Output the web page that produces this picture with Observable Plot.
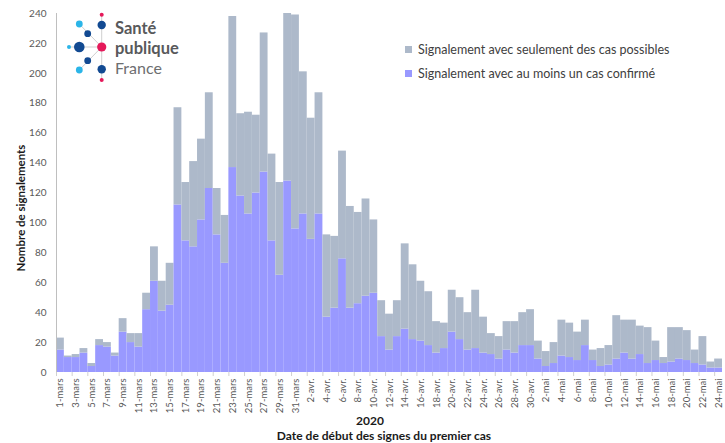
<!DOCTYPE html>
<html><head><meta charset="utf-8">
<script src="https://cdn.jsdelivr.net/npm/d3@7"></script>
<script src="https://cdn.jsdelivr.net/npm/@observablehq/plot@0.6"></script>
<style>
body{margin:0;background:#fff;font-family:Lato,"Open Sans",sans-serif;}
#wrap{position:relative;width:725px;height:443px;overflow:hidden;background:#fff;}
#chart{position:absolute;left:0;top:0;}
.ylab{position:absolute;left:20px;top:208px;transform:translate(-50%,-50%) rotate(-90deg);font-weight:bold;font-size:11.5px;color:#1a1a1a;white-space:nowrap;}
.x2020{position:absolute;left:370px;top:420px;transform:translate(-50%,-50%);font-weight:bold;font-size:12px;color:#1a1a1a;}
.xtitle{position:absolute;left:384px;top:435px;transform:translate(-50%,-50%);font-weight:bold;font-size:12px;color:#1a1a1a;white-space:nowrap;}
.legend{position:absolute;left:405px;top:38px;font-size:12.5px;color:#404040;}
.legend div{display:flex;align-items:center;height:23.5px;white-space:nowrap;}
.legend .sw{display:inline-block;width:7px;height:7px;margin-right:6px;}
#logo{position:absolute;left:0;top:0;}
</style>
</head><body>
<div id="wrap">
  <div id="chart"></div>
  <svg id="logo" width="200" height="90">
    <g stroke="#cfcfcf" stroke-width="1">
      <line x1="101.7" y1="14.7" x2="101.7" y2="80"/>
      <line x1="69" y1="47" x2="101.7" y2="47"/>
      <line x1="79.3" y1="24" x2="101.7" y2="47"/>
      <line x1="79.3" y1="70" x2="101.7" y2="47"/>
    </g>
    <circle cx="101.7" cy="14.7" r="2" fill="#e5195a"/>
    <circle cx="101.7" cy="25" r="4.2" fill="#124a92"/>
    <circle cx="79.3" cy="24" r="3.4" fill="#2bb5e8"/>
    <circle cx="87.7" cy="33.7" r="3.4" fill="#124a92"/>
    <circle cx="69" cy="47" r="2" fill="#2bb5e8"/>
    <circle cx="79.3" cy="47" r="5.3" fill="#124a92"/>
    <circle cx="101.7" cy="47" r="4.6" fill="#e5195a"/>
    <circle cx="87.7" cy="60.7" r="3.4" fill="#124a92"/>
    <circle cx="79.3" cy="70" r="3.4" fill="#2bb5e8"/>
    <circle cx="101.7" cy="69.3" r="4.2" fill="#124a92"/>
    <circle cx="101.7" cy="80" r="2" fill="#e5195a"/>
    <text x="115" y="34" font-family="Lato" font-weight="bold" font-size="16.5" fill="#58595b">Santé</text>
    <text x="115" y="53.5" font-family="Lato" font-weight="bold" font-size="16.5" fill="#58595b">publique</text>
    <text x="115" y="74" font-family="Lato" font-size="16" fill="#6d6e70">France</text>
  </svg>
  <div class="legend">
    <div><span class="sw" style="background:#adb9ca"></span>Signalement avec seulement des cas possibles</div>
    <div><span class="sw" style="background:#9999ff"></span>Signalement avec au moins un cas confirmé</div>
  </div>
  <div class="ylab">Nombre de signalements</div>
  <div class="x2020">2020</div>
  <div class="xtitle">Date de début des signes du premier cas</div>
</div>
<script>
// Categories: days from 1 March to 24 May 2020
const months = [["mars", 31], ["avr.", 30], ["mai", 24]];
const dates = [];
for (const [m, n] of months) for (let d = 1; d <= n; d++) dates.push(`${d}-${m}`);

// Series values
const confirmes = [15,10,10,13,4,18,17,11,27,20,
  17,42,61,41,45,112,88,84,102,123,
  92,73,137,118,106,120,134,88,65,128,
  96,106,89,106,37,43,76,43,46,51,
  53,24,15,24,29,22,21,18,13,16,
  27,22,15,16,13,12,9,15,13,18,
  18,9,4,6,11,10,8,18,8,4,
  5,9,13,9,12,6,8,6,7,9,
  8,6,5,3,3];
const possibles = [8,1,2,3,2,4,3,2,9,6,
  9,11,23,20,28,65,39,57,54,64,
  31,32,101,55,68,52,93,58,62,112,
  143,95,81,81,55,48,72,68,61,65,
  49,24,24,24,57,50,40,36,21,17,
  28,28,25,39,24,14,15,19,21,22,
  24,12,10,14,24,23,19,17,7,12,
  13,29,22,26,19,24,13,4,23,21,
  20,9,19,4,6];

const SER_POSS = "Signalement avec seulement des cas possibles";
const SER_CONF = "Signalement avec au moins un cas confirmé";
const yTicks = [0,20,40,60,80,100,120,140,160,180,200,220,240];
const xTickLabels = dates.filter((d, i) => i % 2 === 0);

const rows = [];
dates.forEach((d, i) => {
  rows.push({date: d, series: SER_CONF, value: confirmes[i]});
  rows.push({date: d, series: SER_POSS, value: possibles[i]});
});

const W = 725, ML = 56, MR = 3;
const bw = (W - ML - MR) / dates.length;

const chart = Plot.plot({
  width: W, height: 443,
  marginLeft: ML, marginRight: MR, marginTop: 13, marginBottom: 71,
  style: {fontFamily: "Lato", fontSize: "10px", color: "#595959", background: "transparent"},
  x: {domain: dates, padding: 0, axis: null},
  y: {domain: [0, 240], axis: null},
  color: {domain: [SER_POSS, SER_CONF], range: ["#adb9ca", "#9999ff"]},
  marks: [
    Plot.barY(rows, {x: "date", y: "value", fill: "series", order: [SER_CONF, SER_POSS]}),
    Plot.ruleX([dates[0]], {dx: -bw / 2, y1: 0, y2: 240, stroke: "#bfbfbf"}),
    Plot.ruleX(xTickLabels, {x: d => d, dx: -bw / 2, y1: 0, y2: -2.7, stroke: "#d0d0d0"}),
    Plot.axisY({ticks: yTicks, tickSize: 0, tickPadding: 10, label: null, fontSize: 10, fill: "#595959"}),
    Plot.axisX({ticks: xTickLabels, tickSize: 0, tickPadding: 6, tickRotate: -90, label: null, fontSize: 9.5, fill: "#595959"})
  ]
});
document.getElementById("chart").appendChild(chart);
</script>
</body></html>
